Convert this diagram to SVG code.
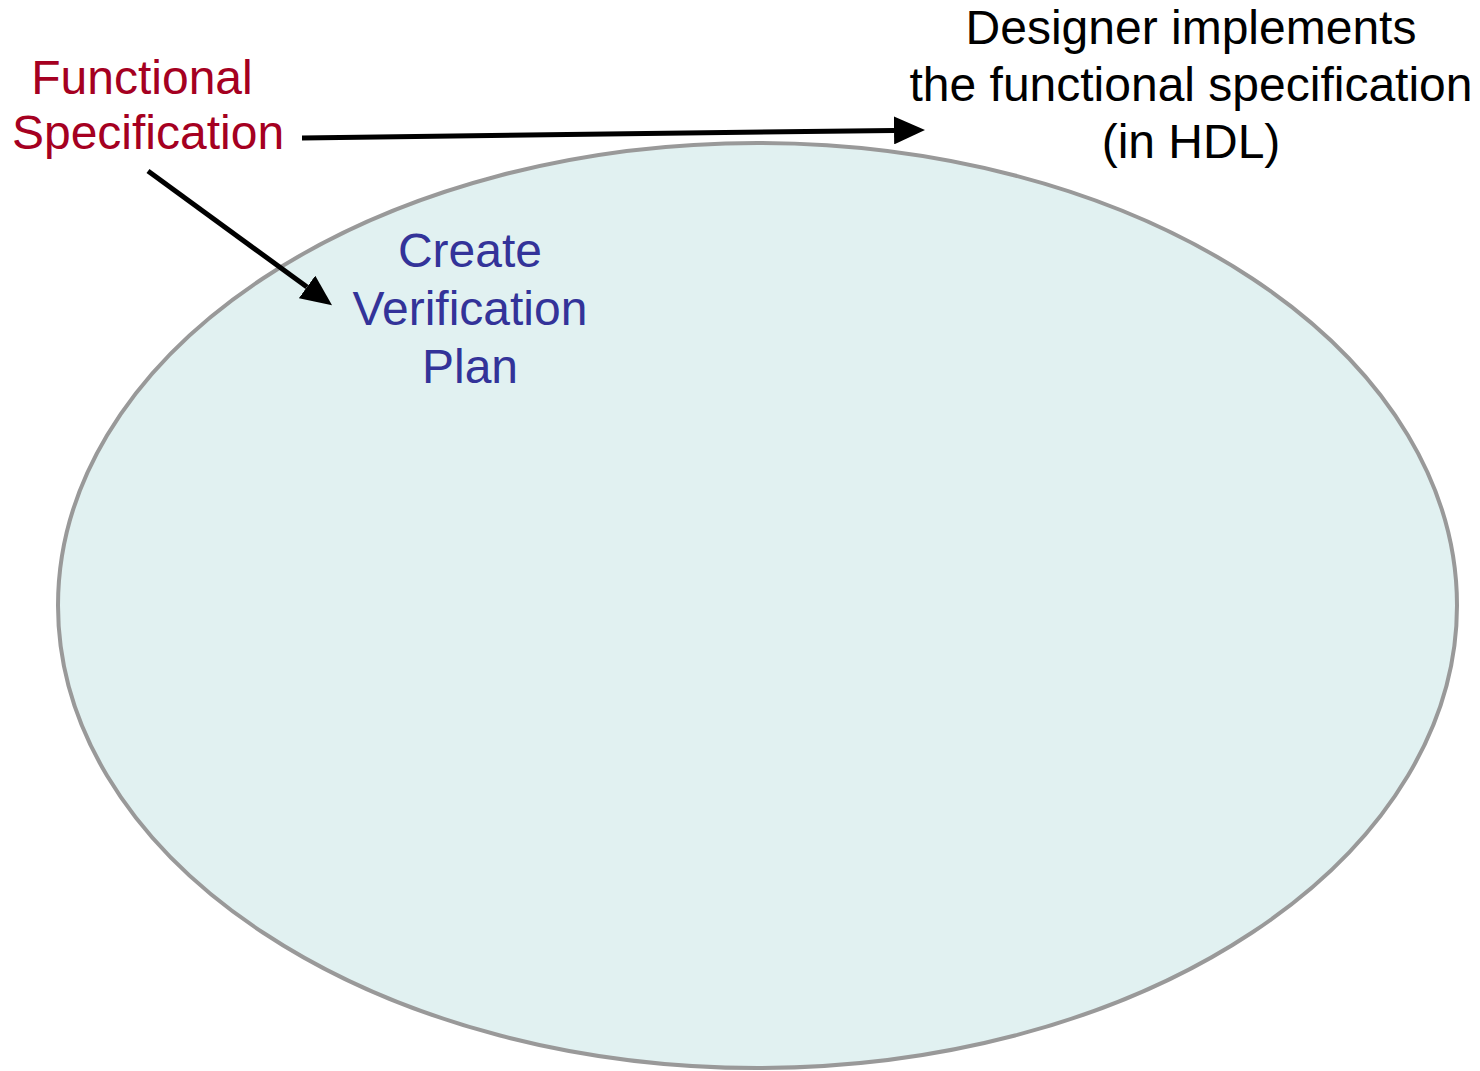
<svg xmlns="http://www.w3.org/2000/svg" width="1480" height="1071" viewBox="0 0 1480 1071">
<style>
text{font-family:"Liberation Sans",Arial,sans-serif;font-size:48px;text-anchor:middle}
.red{fill:#A50021}
.blue{fill:#333399}
.blk{fill:#000}
.conn{stroke:#000;stroke-width:5;fill:none}
</style>
<defs>
<marker id="ah" markerUnits="userSpaceOnUse" viewBox="0 0 31 28" refX="0" refY="14" markerWidth="31" markerHeight="28" orient="auto">
<path d="M0,0 L31,14 L0,28 Z" fill="#000"/>
</marker>
</defs>
<rect width="1480" height="1071" fill="#fff"/>
<g id="cycle">
<ellipse cx="757.5" cy="605.5" rx="699.5" ry="462.5" fill="#E1F1F1" stroke="#999999" stroke-width="4"/>
</g>
<g id="connectors">
<line class="conn" x1="302" y1="138" x2="894" y2="130.4" marker-end="url(#ah)"/>
<line class="conn" x1="148" y1="171" x2="307" y2="287" marker-end="url(#ah)"/>
</g>
<g id="functional-spec">
<text class="red" x="142" y="94">Functional</text>
<text class="red" x="148" y="149">Specification</text>
</g>
<g id="verification-plan">
<text class="blue" x="470" y="267">Create</text>
<text class="blue" x="470" y="325">Verification</text>
<text class="blue" x="470" y="383">Plan</text>
</g>
<g id="designer">
<text class="blk" x="1191" y="44" font-size="49">Designer implements</text>
<text class="blk" x="1191" y="101" font-size="49">the functional specification</text>
<text class="blk" x="1191" y="158" font-size="49">(in HDL)</text>
</g>
</svg>
